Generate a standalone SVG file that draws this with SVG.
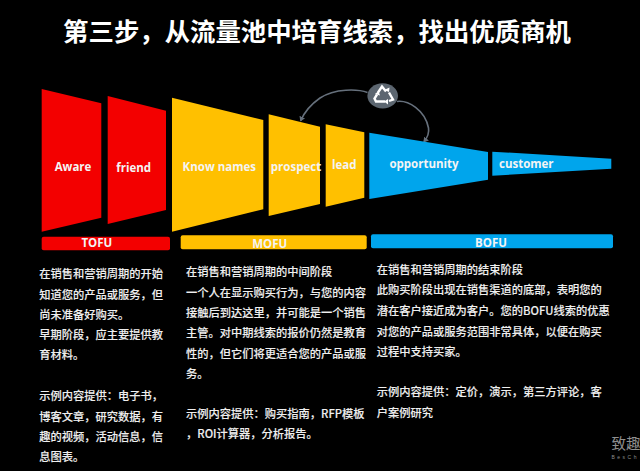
<svg xmlns="http://www.w3.org/2000/svg" width="640" height="471" viewBox="0 0 640 471">
<style>
.title{font:700 25.4px "Noto Sans CJK SC","Noto Sans",sans-serif;fill:#fff;text-anchor:middle;dominant-baseline:central}
.lab{font:700 11.5px "Open Sans","Noto Sans",sans-serif;fill:#f4f4f4;text-anchor:middle;dominant-baseline:central}
.body{font:500 11.25px "Noto Sans CJK SC","Noto Sans",sans-serif;fill:#efefef;dominant-baseline:central;stroke:#efefef;stroke-width:.12}
.red{fill:#f30000}.yel{fill:#ffc000}.blu{fill:#00a5ec}
.conn{fill:none;stroke:#66707c;stroke-width:1.6}
</style>
<defs>
<marker id="ah" markerWidth="6" markerHeight="6" refX="4" refY="3" orient="auto" markerUnits="userSpaceOnUse"><path d="M0 0L5 3L0 6Z" fill="#66707c"/></marker>
</defs>
<rect width="640" height="471" fill="#000"/>
<text class="title" x="317" y="29.500">第三步，从流量池中培育线索，找出优质商机</text>
<g id="connectors">
<path class="conn" marker-end="url(#ah)" d="M367.500 92.500C358 89 335 88 320 98C310 105 304 113 300.700 120.700"/>
<path class="conn" marker-end="url(#ah)" d="M397 101.500C408 100 425 110 428.500 128C429.500 134 427 138 424 141.700"/>
</g>
<g id="node-recycle">
<ellipse cx="382.700" cy="95.800" rx="15.300" ry="12.600" fill="#5c6670"/>
<g fill="none" stroke="#fff" stroke-width="2.400">
<path d="M378 92.500L382 86.500L386 91.500"/>
<path d="M389 92.500L393 99.500L389 101"/>
<path d="M385 101.500H376L374.500 98.500L377 94.500"/>
</g>
<path d="M384 90L389 92L389.500 87.500Z M388 99L384 101.500L388 104.500Z M375 94L380 95.500L378.500 91Z" fill="#fff"/>
</g>
<g id="node-aware"><polygon class="red" points="41.700,89 101.300,103.300 101.300,217.700 41.700,231.700"/><text class="lab" x="73" y="166.700">Aware</text></g>
<g id="node-friend"><polygon class="red" points="107.700,96 166,110.700 166,210 107.700,224"/><text class="lab" x="133.700" y="167.700">friend</text></g>
<g id="node-know-names"><polygon class="yel" points="172,97.700 263.300,120 263.300,209.300 172,231.700"/><text class="lab" x="219.300" y="166">Know names</text></g>
<g id="node-prospect"><polygon class="yel" points="268.700,114.300 320,126.700 320,204 268.700,216"/><text class="lab" x="296" y="166">prospect</text></g>
<g id="node-lead"><polygon class="yel" points="325.700,124.300 364.300,132.300 364.300,197.700 325.700,206.700"/><text class="lab" x="344.300" y="164.300">lead</text></g>
<g id="node-opportunity"><polygon class="blu" points="369.300,132.700 488,152 488,179.700 369.300,199"/><text class="lab" x="424" y="163">opportunity</text></g>
<g id="node-customer"><polygon class="blu" points="492.300,151.700 611.300,158.700 611.300,168.700 492.300,175.700"/><text class="lab" x="526.300" y="163.700">customer</text></g>
<g id="node-tofu"><rect class="red" x="41.700" y="236.700" width="128.300" height="13.600" rx="2"/><text class="lab" x="96.800" y="242.500">TOFU</text></g>
<g id="node-mofu"><rect class="yel" x="180.700" y="235.300" width="186" height="14" rx="2"/><text class="lab" x="269.700" y="243.500">MOFU</text></g>
<g id="node-bofu"><rect class="blu" x="371" y="234.300" width="242" height="14" rx="2"/><text class="lab" x="491" y="242.300">BOFU</text></g>
<g id="text-tofu">
<text class="body" x="39.300" y="273">在销售和营销周期的开始</text>
<text class="body" x="39.300" y="293.700">知道您的产品或服务，但</text>
<text class="body" x="39.300" y="314.300">尚未准备好购买。</text>
<text class="body" x="39.300" y="334.300">早期阶段，应主要提供教</text>
<text class="body" x="39.300" y="354.300">育材料。</text>
<text class="body" x="39.300" y="395.300">示例内容提供：电子书，</text>
<text class="body" x="39.300" y="416">博客文章，研究数据，有</text>
<text class="body" x="39.300" y="435.700">趣的视频，活动信息，信</text>
<text class="body" x="39.300" y="456.300">息图表。</text>
</g>
<g id="text-mofu">
<text class="body" x="186" y="270.700">在销售和营销周期的中间阶段</text>
<text class="body" x="186" y="291.700">一个人在显示购买行为，与您的内容</text>
<text class="body" x="186" y="312">接触后到达这里，并可能是一个销售</text>
<text class="body" x="186" y="332.300">主管。对中期线索的报价仍然是教育</text>
<text class="body" x="186" y="352.700">性的，但它们将更适合您的产品或服</text>
<text class="body" x="186" y="373">务。</text>
<text class="body" x="186" y="413.300">示例内容提供：购买指南，RFP模板</text>
<text class="body" x="186" y="433.300">，ROI计算器，分析报告。</text>
</g>
<g id="text-bofu">
<text class="body" x="376.700" y="269.300">在销售和营销周期的结束阶段</text>
<text class="body" x="376.700" y="289.300">此购买阶段出现在销售渠道的底部，表明您的</text>
<text class="body" x="376.700" y="310">潜在客户接近成为客户。您的BOFU线索的优惠</text>
<text class="body" x="376.700" y="330.700">对您的产品或服务范围非常具体，以便在购买</text>
<text class="body" x="376.700" y="351.300">过程中支持买家。</text>
<text class="body" x="376.700" y="391.300">示例内容提供：定价，演示，第三方评论，客</text>
<text class="body" x="376.700" y="411.700">户案例研究</text>
</g>
<g id="watermark" fill="#8f8f8f">
<text x="611.500" y="449" font-family="Noto Sans CJK SC, sans-serif" font-size="14.500">致趣</text>
<text x="611.500" y="459" font-family="Liberation Sans, sans-serif" font-size="5" letter-spacing="2.500">BesCh</text>
</g>
</svg>
